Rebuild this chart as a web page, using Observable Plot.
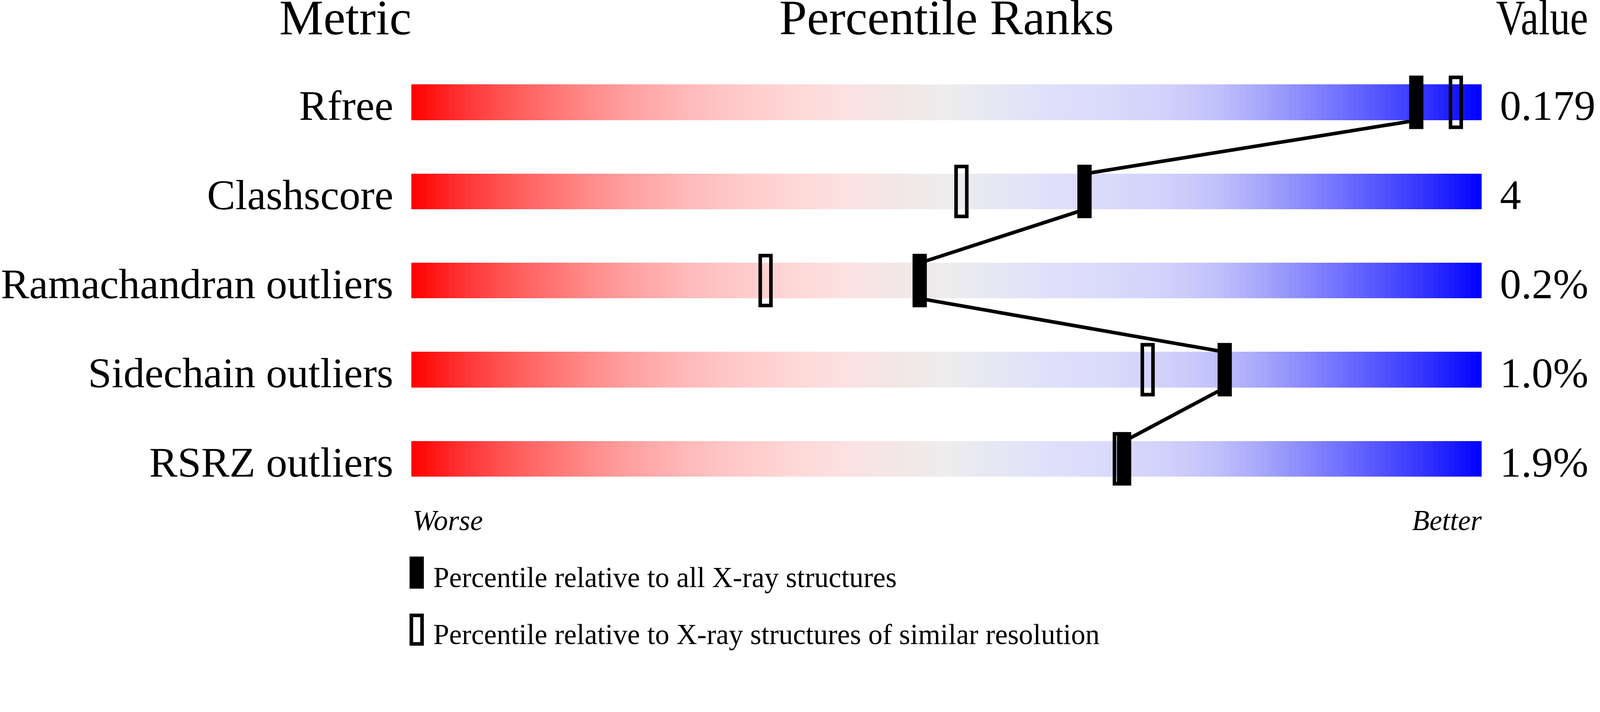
<!DOCTYPE html>
<html><head><meta charset="utf-8">
<script src="https://cdn.jsdelivr.net/npm/d3@7"></script>
<script src="https://cdn.jsdelivr.net/npm/@observablehq/plot@0.6"></script>
<style>html,body{margin:0;padding:0;background:#fff;} svg{display:block;}</style>
</head><body><div id="chart"></div>
<script>
// ---- data ----
const metrics = ["Rfree", "Clashscore", "Ramachandran outliers", "Sidechain outliers", "RSRZ outliers"];
const valueLabels = ["0.179", "4", "0.2%", "1.0%", "1.9%"];
const pctAll = [93.9, 62.9, 47.5, 76.0, 66.6];       // percentile relative to all X-ray structures
const pctSimilar = [97.6, 51.4, 33.1, 68.8, 66.2];   // percentile relative to similar resolution
const gradientStops = [0, 5, 10, 15, 20, 25, 30, 35, 40, 45, 50, 55, 60, 65, 70, 75, 80, 85, 90, 95, 100];
const gradientColors = ["#ff0000", "#ff3535", "#ff5e5e", "#ff8080", "#ff9e9e", "#ffb6b6", "#ffc8c8",
  "#ffd5d5", "#fde0e0", "#f3e6e6", "#ededed", "#e6e6f5", "#dfdffb", "#dadafb", "#d2d2fc",
  "#c2c2fc", "#a3a3fc", "#7e7eff", "#5858ff", "#3030ff", "#0000ff"];
const headers = {metric: "Metric", ranks: "Percentile Ranks", value: "Value"};
const scaleEnds = {worse: "Worse", better: "Better"};
const legendLabels = ["Percentile relative to all X-ray structures",
  "Percentile relative to X-ray structures of similar resolution"];

const serif = "'Liberation Serif', 'Times New Roman', Times, serif";
const rowIndex = metrics.map((m, i) => i);
const cells = rowIndex.flatMap(i => d3.range(0, 100, 0.5).map(p => ({row: i, p0: p, p1: p + 0.5})));
const barHalf = 0.2; // half bar height in row units (100px of 250px row pitch)

const main = Plot.plot({
  width: 4485, height: 1524,
  marginLeft: 1153, marginRight: 332, marginTop: 0, marginBottom: 0,
  style: {background: "white", fontFamily: serif},
  x: {domain: [0, 100], axis: null},
  y: {domain: [0, 4], range: [287, 1287], axis: null},
  color: {type: "linear", domain: gradientStops, range: gradientColors, interpolate: "rgb"},
  marks: [
    Plot.rect(cells, {x1: "p0", x2: "p1", y1: "row", y2: "row", insetTop: -50, insetBottom: -50,
      fill: d => (d.p0 + d.p1) / 2, shapeRendering: "crispEdges"}),
    Plot.link(d3.range(metrics.length - 1), {
      x1: i => pctAll[i], y1: i => i + barHalf,
      x2: i => pctAll[i + 1], y2: i => i + 1 - barHalf,
      stroke: "black", strokeWidth: 10}),
    Plot.rect(rowIndex, {x1: i => pctSimilar[i], x2: i => pctSimilar[i], y1: i => i, y2: i => i,
      insetLeft: -15, insetRight: -15, insetTop: -70, insetBottom: -70,
      fill: "none", stroke: "black", strokeWidth: 10}),
    Plot.rect(rowIndex, {x1: i => pctAll[i], x2: i => pctAll[i], y1: i => i, y2: i => i,
      insetLeft: -20, insetRight: -20, insetTop: -75, insetBottom: -75, fill: "black"}),
    Plot.text(rowIndex, {y: i => i, text: i => metrics[i], frameAnchor: "left", textAnchor: "end",
      lineAnchor: "bottom", dx: -51, dy: 49, fontSize: 119, fontFamily: serif, fill: "black"}),
    Plot.text(rowIndex, {y: i => i, text: i => valueLabels[i], frameAnchor: "right", textAnchor: "start",
      lineAnchor: "bottom", dx: 51, dy: 49, fontSize: 119, fontFamily: serif, fill: "black"}),
    Plot.text([headers.metric], {frameAnchor: "top-left", textAnchor: "end", lineAnchor: "bottom",
      dy: 96, fontSize: 139, fontFamily: serif, fill: "black"}),
    Plot.text([headers.ranks], {frameAnchor: "top", textAnchor: "middle", lineAnchor: "bottom",
      dy: 96, fontSize: 139, fontFamily: serif, fill: "black"}),
    Plot.text([headers.value], {frameAnchor: "top-right", textAnchor: "start", lineAnchor: "bottom",
      dx: 40, dy: 96, fontSize: 139, fontFamily: serif, fill: "black"}),
    Plot.text([scaleEnds.worse], {frameAnchor: "top-left", textAnchor: "start", lineAnchor: "bottom",
      dx: 3, dy: 1486, fontSize: 80, fontStyle: "italic", fontFamily: serif, fill: "black"}),
    Plot.text([scaleEnds.better], {frameAnchor: "top-right", textAnchor: "end", lineAnchor: "bottom",
      dx: 0, dy: 1486, fontSize: 80, fontStyle: "italic", fontFamily: serif, fill: "black"})
  ]
});

// the "Value" header in the reference is narrower than its cap height suggests
d3.select(main).selectAll("text")
  .filter(function () { return this.textContent === headers.value; })
  .attr("textLength", 258).attr("lengthAdjust", "spacingAndGlyphs");

const legend = Plot.plot({
  width: 4485, height: 300,
  marginLeft: 1153, marginRight: 332, marginTop: 0, marginBottom: 0,
  style: {background: "white", fontFamily: serif},
  x: {domain: [0, 100], axis: null},
  y: {type: "point", domain: legendLabels, range: [82, 242], padding: 0, axis: null},
  marks: [
    Plot.rect([legendLabels[0]], {x1: () => 0, x2: () => 0, y1: d => d, y2: d => d, dx: 15,
      insetLeft: -20, insetRight: -20, insetTop: -45, insetBottom: -45, fill: "black"}),
    Plot.rect([legendLabels[1]], {x1: () => 0, x2: () => 0, y1: d => d, y2: d => d, dx: 15,
      insetLeft: -15, insetRight: -15, insetTop: -40, insetBottom: -40,
      fill: "none", stroke: "black", strokeWidth: 10}),
    Plot.text(legendLabels, {y: d => d, text: d => d, frameAnchor: "left", textAnchor: "start",
      lineAnchor: "bottom", dx: 61, dy: 40, fontSize: 80, fontFamily: serif, fill: "black"})
  ]
});

const root = document.getElementById("chart");
root.appendChild(main);
root.appendChild(legend);
</script>
</body></html>
